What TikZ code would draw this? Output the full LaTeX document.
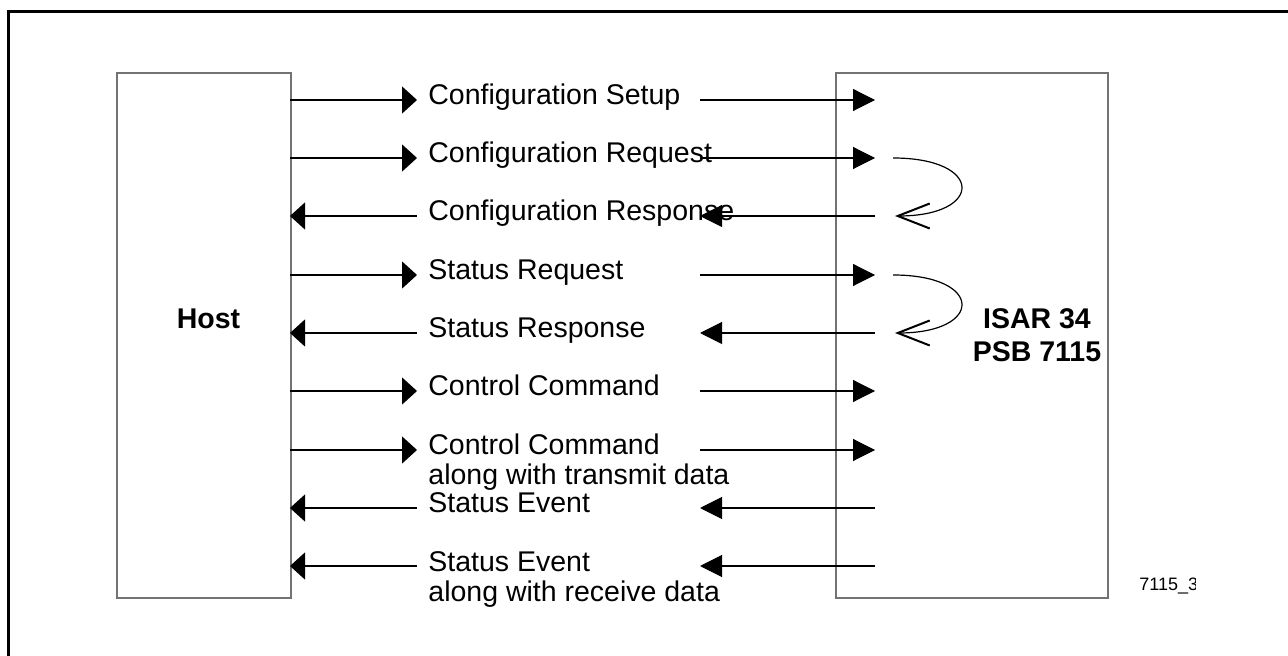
\documentclass[tikz,border=0pt]{standalone}
\usepackage{fontspec}
\setmainfont{Liberation Sans}
\usetikzlibrary{arrows.meta}
\tikzset{
  boxline/.style={draw=black!55,line width=1pt,inner sep=0pt,anchor=north west},
  lab/.style={anchor=base west,inner sep=0pt,font=\fontsize{14.25pt}{15pt}\selectfont},
  bold/.style={anchor=base,inner sep=0pt,font=\fontsize{14.25pt}{16.5pt}\selectfont\bfseries},
  conn/.style={line width=0.55pt,black},
  Lf/.style={-{Triangle[length=7.5pt,width=13.5pt]}},
  Lb/.style={{Triangle[length=7.5pt,width=13.5pt]}-},
  Rf/.style={-{Triangle[length=11pt,width=11pt]}},
  Rb/.style={{Triangle[length=11pt,width=11pt]}-},
  loopline/.style={line width=0.6pt,black,-{Straight Barb[length=16pt,width=12.5pt,line width=1pt]}},
  frame/.style={line width=1.3pt,black}
}
\begin{document}
\begin{tikzpicture}[x=0.5pt,y=-0.5pt]
\useasboundingbox (0,0) rectangle (1288,656);
% outer frame
\coordinate (fa) at (8.5,660);
\coordinate (fb) at (8.5,11.5);
\coordinate (fc) at (1292,11.5);
\draw[frame] (fa) -- (fb) -- (fc);
% boxes
\node[boxline,minimum width=87pt,minimum height=262.5pt] (host) at (116,72) {};
\node[boxline,minimum width=136pt,minimum height=262.5pt] (isar) at (835,72) {};
\node[bold] (hostlab) at (208.5,329) {Host};
\node[bold] (isarlab) at (1037,329) {\begin{tabular}[t]{@{}c@{}}ISAR 34\\PSB 7115\end{tabular}};
% arrows
\foreach \i/\y/\s in {1/100/f,2/158/f,3/216/b,4/275/f,5/333/b,6/391/f,7/450/f,8/508/b,9/566/b}{
  \coordinate (h\i) at (290,\y);
  \coordinate (p\i) at (417,\y);
  \coordinate (q\i) at (700,\y);
  \coordinate (e\i) at (875,\y);
  \draw[conn,L\s] (h\i) -- (p\i);
  \draw[conn,R\s] (q\i) -- (e\i);
}
% labels
\node[lab] (l1) at (428,105) {Configuration Setup};
\node[lab] (l2) at (428,163) {Configuration Request};
\node[lab] (l3) at (428,221) {Configuration Response};
\node[lab] (l4) at (428,280) {Status Request};
\node[lab] (l5) at (428,338) {Status Response};
\node[lab] (l6) at (428,396) {Control Command};
\node[lab] (l7) at (428,455) {\begin{tabular}[t]{@{}l@{}}Control Command\\along with transmit data\end{tabular}};
\node[lab] (l8) at (428,513) {Status Event};
\node[lab] (l9) at (428,571) {\begin{tabular}[t]{@{}l@{}}Status Event\\along with receive data\end{tabular}};
% loops
\coordinate (s2) at (893,158);
\coordinate (t2) at (895,216);
\coordinate (s4) at (893,275);
\coordinate (t4) at (895,333);
\draw[loopline] (s2) .. controls (984,158) and (984,216) .. (t2);
\draw[loopline] (s4) .. controls (984,275) and (984,333) .. (t4);
% figure id
\begin{scope}
\clip (1100,560) rectangle (1195,610);
\node[anchor=base west,inner sep=0pt,font=\fontsize{9pt}{10pt}\selectfont] (figid) at (1139,590) {7115\_3};
\end{scope}
\end{tikzpicture}
\end{document}
